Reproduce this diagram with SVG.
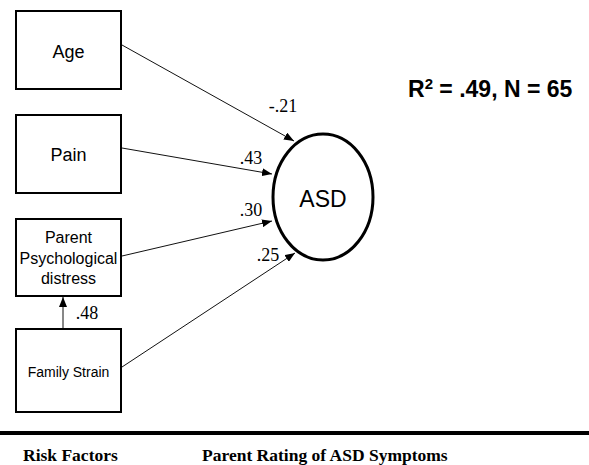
<svg xmlns="http://www.w3.org/2000/svg" width="589" height="465" viewBox="0 0 589 465">
<style>
.box{fill:#fff;stroke:#000;stroke-width:2}
.lbl{font-family:"Liberation Sans",Arial,sans-serif;fill:#000;text-anchor:middle}
.num{font-family:"Liberation Serif","Times New Roman",serif;font-size:18px;fill:#000;text-anchor:middle}
.edge{stroke:#111;stroke-width:1;fill:none;marker-end:url(#ah)}
.foot{font-family:"Liberation Serif","Times New Roman",serif;font-weight:bold;font-size:17.5px;fill:#000}
</style>
<defs>
<marker id="ah" viewBox="0 0 10 8" refX="10" refY="4" markerWidth="10" markerHeight="8" markerUnits="userSpaceOnUse" orient="auto">
<path d="M0,0 L10,4 L0,8 Z" fill="#000"/>
</marker>
</defs>
<rect width="589" height="465" fill="#fff"/>
<g id="connectors">
<line class="edge" x1="122" y1="45" x2="294" y2="141"/>
<line class="edge" x1="122" y1="148" x2="272" y2="174"/>
<line class="edge" x1="122" y1="256" x2="272" y2="221"/>
<line class="edge" x1="122" y1="367" x2="295" y2="253"/>
<line class="edge" x1="63" y1="329" x2="63" y2="297"/>
</g>
<g id="edge-labels">
<text class="num" x="283" y="112">-.21</text>
<text class="num" x="251" y="164">.43</text>
<text class="num" x="251" y="216">.30</text>
<text class="num" x="268" y="261">.25</text>
<text class="num" x="87" y="319">.48</text>
</g>
<g id="age">
<rect class="box" x="16" y="11" width="105" height="78"/>
<text class="lbl" x="68.5" y="58" font-size="18">Age</text>
</g>
<g id="pain">
<rect class="box" x="16" y="115" width="105" height="78"/>
<text class="lbl" x="68.5" y="161" font-size="18">Pain</text>
</g>
<g id="parent-distress">
<rect class="box" x="16" y="219" width="105" height="77"/>
<text class="lbl" x="68.5" y="243" font-size="16">Parent</text>
<text class="lbl" x="68.5" y="264" font-size="16">Psychological</text>
<text class="lbl" x="68.5" y="284" font-size="16">distress</text>
</g>
<g id="family-strain">
<rect class="box" x="16" y="329" width="105" height="83"/>
<text class="lbl" x="68.5" y="377" font-size="14">Family Strain</text>
</g>
<g id="asd">
<ellipse cx="323" cy="197" rx="50" ry="63" fill="#fff" stroke="#000" stroke-width="3"/>
<text class="lbl" x="323" y="207" font-size="23">ASD</text>
</g>
<g id="stats">
<text font-family="Liberation Sans,Arial,sans-serif" font-weight="bold" font-size="23" x="408" y="97">R<tspan font-size="15" dy="-8">2</tspan><tspan dy="8"> = .49, N = 65</tspan></text>
</g>
<g id="footer">
<line x1="0" y1="433" x2="589" y2="433" stroke="#000" stroke-width="4"/>
<text class="foot" x="23" y="461">Risk Factors</text>
<text class="foot" x="202" y="461">Parent Rating of ASD Symptoms</text>
</g>
</svg>
